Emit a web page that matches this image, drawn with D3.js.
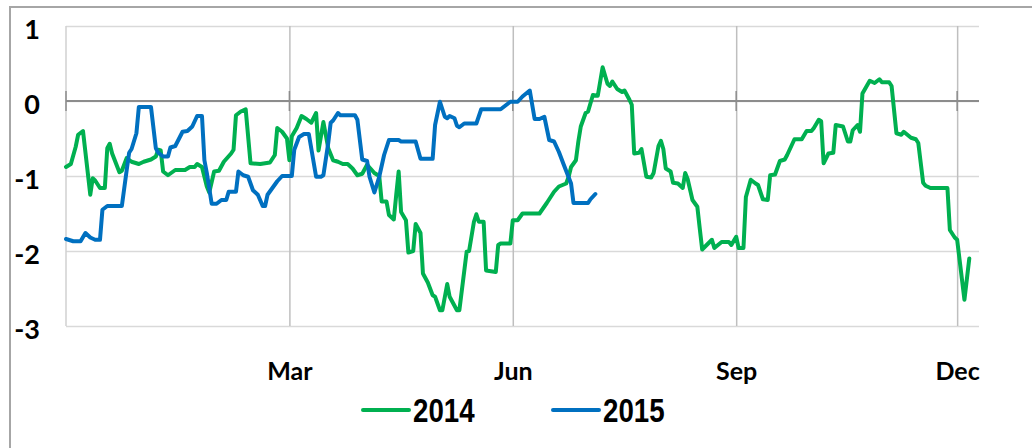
<!DOCTYPE html>
<html>
<head>
<meta charset="utf-8">
<script src="https://cdn.jsdelivr.net/npm/d3@7"></script>
<style>
  body { margin: 0; background: #fff; }
  svg { display: block; }
</style>
</head>
<body>
<div id="chart"></div>
<script>
// x axis runs from startDate to endDate, the day arrays count days from startDate
var startDate = new Date(2013, 10, 29);
var endDate = new Date(2014, 11, 10);

var yTicks = [1, 0, -1, -2, -3];
var xTicks = [new Date(2014, 2, 1), new Date(2014, 5, 1), new Date(2014, 8, 1), new Date(2014, 11, 1)];
var xTickLabels = ['Mar', 'Jun', 'Sep', 'Dec'];
var seriesNames = ['2014', '2015'];
var seriesColors = ['#00b050', '#0070c0'];

var days2014 = [0,2,4,5,7,10,11,12,14,16,17,18,19,22,23,25,27,30,32,35,37,38,39,40,42,45,49,51,53,54,56,58,59,61,63,65,68,69,70,72,74,76,80,84,86,87,89,91,92,93,95,97,99,101,103,104,106,108,110,112,114,116,118,120,122,124,127,129,130,132,133,135,136,137,138,140,141,143,144,146,147,149,151,152,154,155,157,158,161,162,165,166,168,169,170,172,173,177,178,179,183,184,186,188,195,198,201,203,206,207,208,210,211,212,214,215,217,219,221,223,224,225,227,229,230,232,233,234,236,237,239,241,242,244,245,246,247,249,250,252,254,255,256,258,260,261,262,266,267,270,273,274,276,277,279,280,282,284,285,287,289,290,292,294,296,297,300,303,305,307,308,310,311,312,314,316,317,320,322,323,324,326,327,328,331,333,335,336,339,340,342,344,345,348,350,351,353,354,356,363,364,366,367,370,372];
var vals2014 = [-0.88,-0.84,-0.61,-0.45,-0.40,-1.25,-1.03,-1.06,-1.16,-1.16,-0.63,-0.57,-0.70,-0.95,-0.93,-0.76,-0.81,-0.84,-0.81,-0.78,-0.74,-0.65,-0.66,-0.94,-0.99,-0.92,-0.92,-0.88,-0.88,-0.84,-0.88,-1.14,-1.22,-0.94,-0.93,-0.81,-0.70,-0.65,-0.19,-0.14,-0.11,-0.83,-0.84,-0.82,-0.72,-0.36,-0.41,-0.50,-0.79,-0.47,-0.36,-0.20,-0.24,-0.29,-0.16,-0.66,-0.28,-0.63,-0.79,-0.81,-0.84,-0.84,-0.90,-0.99,-0.97,-0.85,-0.96,-1.00,-1.34,-1.34,-1.52,-1.58,-1.25,-0.94,-1.48,-1.59,-2.02,-2.00,-1.64,-1.76,-2.30,-2.42,-2.59,-2.61,-2.79,-2.79,-2.44,-2.61,-2.79,-2.79,-2.01,-2.00,-1.61,-1.51,-1.61,-1.61,-2.26,-2.28,-1.92,-1.90,-1.90,-1.59,-1.59,-1.50,-1.50,-1.36,-1.21,-1.14,-1.10,-1.01,-0.88,-0.79,-0.54,-0.34,-0.16,-0.14,0.08,0.07,0.45,0.23,0.20,0.26,0.16,0.12,0.14,0.02,-0.05,-0.70,-0.69,-0.64,-1.01,-1.02,-0.96,-0.60,-0.53,-0.64,-0.90,-0.94,-1.09,-1.10,-1.16,-0.96,-1.04,-1.32,-1.41,-1.70,-1.98,-1.85,-1.96,-1.88,-1.88,-1.92,-1.81,-1.96,-1.96,-1.28,-1.05,-1.10,-1.12,-1.31,-1.32,-0.99,-0.98,-0.80,-0.78,-0.72,-0.51,-0.51,-0.40,-0.40,-0.36,-0.25,-0.27,-0.83,-0.70,-0.69,-0.32,-0.34,-0.54,-0.54,-0.39,-0.32,-0.41,0.10,0.27,0.24,0.29,0.25,0.25,0.20,-0.43,-0.45,-0.41,-0.49,-0.51,-0.56,-1.09,-1.13,-1.16,-1.16,-1.72,-1.82,-1.85,-2.65,-2.10];

var days2015 = [0,3,6,8,10,12,14,15,17,23,25,26,27,29,30,35,37,38,40,42,43,45,48,50,52,54,56,57,58,60,62,64,66,67,70,71,73,75,77,79,81,82,83,87,89,93,94,96,98,100,103,105,106,108,109,110,112,113,119,120,122,124,125,127,129,131,133,137,138,144,146,151,152,154,156,157,158,160,161,162,164,169,171,179,183,186,188,191,193,195,197,199,201,203,205,208,209,215,216,218];
var vals2015 = [-1.84,-1.87,-1.87,-1.76,-1.82,-1.85,-1.85,-1.45,-1.40,-1.40,-0.92,-0.69,-0.64,-0.43,-0.08,-0.08,-0.63,-0.69,-0.74,-0.74,-0.62,-0.60,-0.41,-0.40,-0.34,-0.20,-0.20,-0.79,-0.96,-1.37,-1.37,-1.32,-1.32,-1.21,-1.21,-0.94,-0.99,-1.01,-1.19,-1.25,-1.40,-1.40,-1.25,-1.07,-1.00,-1.00,-0.65,-0.48,-0.44,-0.44,-1.01,-1.01,-0.99,-0.56,-0.29,-0.26,-0.16,-0.19,-0.19,-0.25,-0.78,-0.80,-1.01,-1.22,-1.01,-0.72,-0.52,-0.52,-0.54,-0.54,-0.77,-0.77,-0.32,-0.01,-0.21,-0.23,-0.20,-0.23,-0.33,-0.35,-0.30,-0.30,-0.11,-0.11,-0.01,-0.01,0.06,0.14,-0.24,-0.24,-0.21,-0.52,-0.54,-0.68,-0.85,-1.10,-1.36,-1.36,-1.31,-1.24];

var width = 1032, height = 448;
var margin = {top: 26, right: 53, bottom: 122, left: 66};
var plotW = width - margin.left - margin.right,
    plotH = height - margin.top - margin.bottom;

var svg = d3.select('#chart')
  .append('svg')
    .attr('width', width)
    .attr('height', height);

// outer frame (only top and left edges show in the picture)
svg.append('path')
  .attr('d', 'M10,' + (height + 5) + 'V7H' + (width + 5))
  .attr('fill', 'none')
  .attr('stroke', '#a6a6a6')
  .attr('stroke-width', 2);

var g = svg.append('g')
  .attr('transform', 'translate(' + margin.left + ',' + margin.top + ')');

var x = d3.scaleTime()
  .domain([startDate, endDate])
  .range([0, plotW]);

var y = d3.scaleLinear()
  .domain([-3, 1])
  .range([plotH, 0]);

var labelFont = 'Lato, "Open Sans", sans-serif';

// horizontal gridlines + y labels
var yAxis = g.append('g')
  .call(d3.axisLeft(y).tickValues(yTicks).tickSize(-plotW).tickPadding(26).tickFormat(d3.format('d')));
yAxis.select('.domain').remove();
yAxis.selectAll('line')
  .attr('stroke', '#d9d9d9')
  .attr('stroke-width', 1.5);
yAxis.selectAll('text')
  .attr('dy', '0.48em')
  .style('font-family', labelFont)
  .style('font-weight', 'bold')
  .style('font-size', '27px')
  .attr('fill', '#000')
  .text(function(d) { return d < 0 ? '-' + Math.abs(d) : d; });

// vertical gridlines + month labels
var xAxis = g.append('g')
  .attr('transform', 'translate(0,' + plotH + ')')
  .call(d3.axisBottom(x).tickValues(xTicks).tickSize(-plotH).tickFormat(function(d, i) { return xTickLabels[i]; }));
xAxis.select('.domain').remove();
xAxis.selectAll('line')
  .attr('stroke', '#bfbfbf')
  .attr('stroke-width', 1.5);
xAxis.selectAll('text')
  .attr('y', 54)
  .attr('dy', 0)
  .style('font-family', labelFont)
  .style('font-weight', 'bold')
  .style('font-size', '25px')
  .attr('fill', '#000');

// left edge of plot
g.append('line')
  .attr('x1', 0).attr('x2', 0)
  .attr('y1', 0).attr('y2', plotH)
  .attr('stroke', '#d0d0d0')
  .attr('stroke-width', 1.5);

// zero line with small tick marks
g.append('line')
  .attr('x1', 0).attr('x2', plotW)
  .attr('y1', y(0)).attr('y2', y(0))
  .attr('stroke', '#8c8c8c')
  .attr('stroke-width', 2);

g.selectAll('.zerotick')
  .data([startDate].concat(xTicks))
  .enter()
  .append('line')
    .attr('class', 'zerotick')
    .attr('x1', function(d) { return x(d); })
    .attr('x2', function(d) { return x(d); })
    .attr('y1', y(0) - 10)
    .attr('y2', y(0) + 10)
    .attr('stroke', '#8c8c8c')
    .attr('stroke-width', 1.5);

// series
var series = [
  {name: seriesNames[0], color: seriesColors[0], days: days2014, vals: vals2014},
  {name: seriesNames[1], color: seriesColors[1], days: days2015, vals: vals2015}
];

var line = d3.line()
  .x(function(d) { return x(d3.timeDay.offset(startDate, d[0])); })
  .y(function(d) { return y(d[1]); });

g.selectAll('.series')
  .data(series)
  .enter()
  .append('path')
    .attr('class', 'series')
    .attr('fill', 'none')
    .attr('stroke', function(d) { return d.color; })
    .attr('stroke-width', 4)
    .attr('stroke-linejoin', 'round')
    .attr('stroke-linecap', 'round')
    .attr('d', function(d) { return line(d3.zip(d.days, d.vals)); });

// legend
var legend = svg.append('g')
  .attr('transform', 'translate(363,410)');

var items = legend.selectAll('g')
  .data(series)
  .enter()
  .append('g')
    .attr('transform', function(d, i) { return 'translate(' + (i * 190) + ',0)'; });

items.append('line')
  .attr('x1', 0).attr('x2', 46)
  .attr('y1', 0).attr('y2', 0)
  .attr('stroke', function(d) { return d.color; })
  .attr('stroke-width', 4)
  .attr('stroke-linecap', 'round');

// narrow bold face isn't installed, so squeeze the regular one
items.append('text')
  .attr('transform', 'translate(50,12) scale(0.84,1)')
  .style('font-family', '"Liberation Sans Narrow", "Arial Narrow", "Liberation Sans", sans-serif')
  .style('font-weight', 'bold')
  .style('font-size', '33px')
  .attr('fill', '#000')
  .text(function(d) { return d.name; });
</script>
</body>
</html>
